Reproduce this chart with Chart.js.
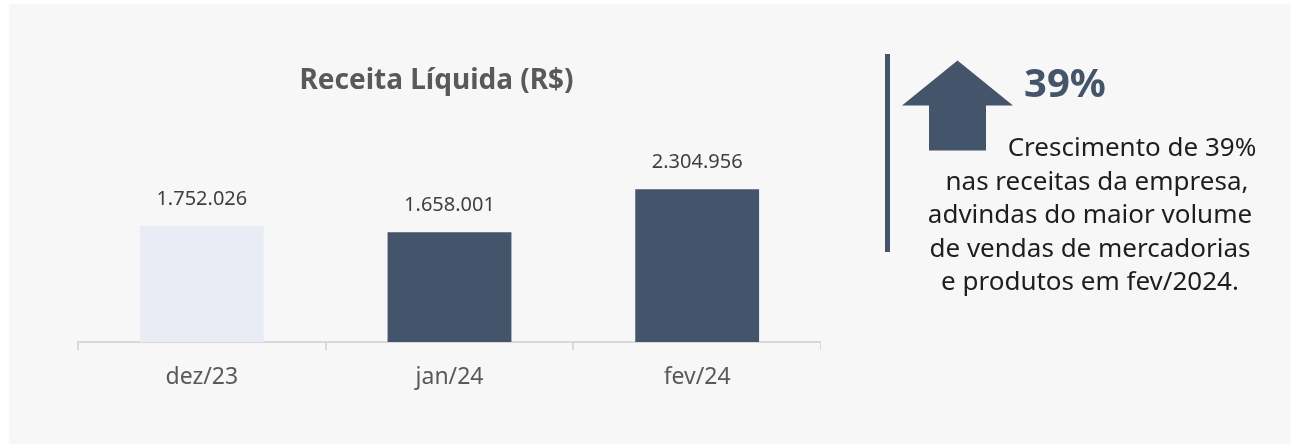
<!DOCTYPE html>
<html lang="pt-BR">
<head>
<meta charset="utf-8">
<title>Receita Líquida</title>
<script src="https://cdn.jsdelivr.net/npm/chart.js@4.4.1/dist/chart.umd.min.js"></script>
<style>
  html, body { margin: 0; padding: 0; background: #ffffff; }
  body { width: 1291px; height: 444px; position: relative; overflow: hidden; font-family: "Noto Sans", "Open Sans", sans-serif; }
  .panel { position: absolute; left: 9px; top: 4px; right: 0; bottom: 0; background: #f7f7f7; }
  .chart-box { position: absolute; left: 52px; top: 40px; width: 769px; height: 362px; }
  .side { position: absolute; left: 0; top: 0; }
</style>
</head>
<body>
<div class="panel"></div>
<div class="chart-box"><canvas id="receitaChart"></canvas></div>

<svg class="side" width="1291" height="444" xmlns="http://www.w3.org/2000/svg">
  <rect x="885" y="54" width="5" height="198" fill="#44546a" />
  <polygon fill="#44546a" points="902,105.5 957.5,60.5 1013,105.5 986,105.5 986,150.5 929,150.5 929,105.5" />
  <text x="1024" y="97" font-family="Noto Sans" font-weight="700" font-size="40" fill="#44546a">39%</text>
  <g font-family="Noto Sans" font-size="26" fill="#1e1e1e" text-anchor="middle">
    <text x="1132" y="156">Crescimento de 39%</text>
    <text x="1097" y="189.5">nas receitas da empresa,</text>
    <text x="1090" y="223">advindas do maior volume</text>
    <text x="1090" y="256.5">de vendas de mercadorias</text>
    <text x="1090" y="290">e produtos em fev/2024.</text>
  </g>
</svg>

<script>
const categories = ["dez/23", "jan/24", "fev/24"];
const receita = [1752026, 1658001, 2304956];
const barColors = ["#e9ecf5", "#44546a", "#44546a"];
const yMax = 3000000;

function formatBR(value) {
  return String(value).replace(/\B(?=(\d{3})+(?!\d))/g, ".");
}

// rótulos de valor acima das barras
const valueLabels = {
  id: "valueLabels",
  afterDatasetsDraw(chart) {
    const ctx = chart.ctx;
    const meta = chart.getDatasetMeta(0);
    ctx.save();
    ctx.font = '20px "Noto Sans"';
    ctx.fillStyle = "#404040";
    ctx.textAlign = "center";
    ctx.textBaseline = "alphabetic";
    meta.data.forEach((bar, i) => {
      ctx.fillText(formatBR(receita[i]), bar.x, bar.y - 21);
    });
    ctx.restore();
  },
};

new Chart(document.getElementById("receitaChart"), {
  type: "bar",
  data: {
    labels: categories,
    datasets: [{
      label: "Receita Líquida (R$)",
      data: receita,
      backgroundColor: barColors,
      borderWidth: 0,
      categoryPercentage: 1,
      barPercentage: 0.5,
    }],
  },
  options: {
    responsive: true,
    maintainAspectRatio: false,
    animation: false,
    layout: { padding: 0 },
    plugins: {
      legend: { display: false },
      tooltip: { enabled: false },
      title: {
        display: true,
        text: "Receita Líquida (R$)",
        color: "#595959",
        font: { family: "Noto Sans", size: 28, weight: "bold", lineHeight: 1.2 },
        padding: { top: 24.6, bottom: 45 },
      },
    },
    scales: {
      x: {
        offset: true,
        grid: {
          offset: true,
          drawOnChartArea: false,
          drawTicks: true,
          tickLength: 8,
          color: "#d9d9d9",
          lineWidth: 2,
        },
        border: { display: true, color: "#d9d9d9", width: 2 },
        ticks: {
          color: "#595959",
          font: { family: "Noto Sans", size: 23 },
          padding: 14,
        },
        afterFit: (scale) => { scale.height = 60; },
      },
      y: {
        min: 0,
        max: yMax,
        display: true,
        position: "left",
        grid: { display: false },
        border: { display: false },
        ticks: { display: false },
        afterFit: (scale) => { scale.width = 26; },
      },
    },
  },
  plugins: [valueLabels],
});
</script>
</body>
</html>
